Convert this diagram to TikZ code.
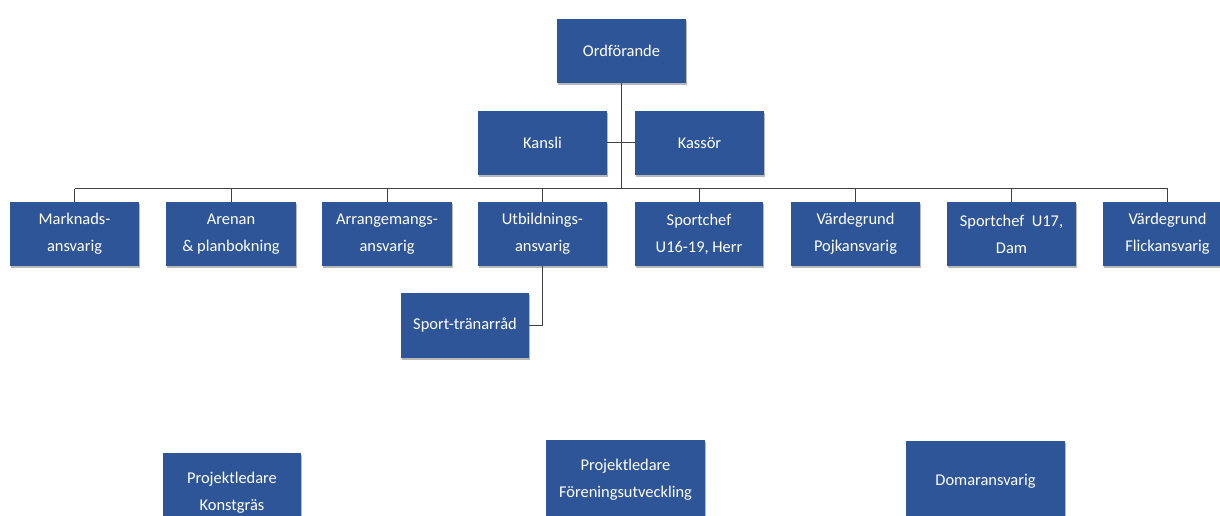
\documentclass[tikz,border=0pt]{standalone}
\usepackage{fontspec}
\setmainfont{Carlito}
\usetikzlibrary{shadows}
\definecolor{boxblue}{RGB}{46,85,151}
\definecolor{linegray}{RGB}{64,64,64}
\tikzset{
  orgbox/.style={draw=none, fill=boxblue, text=white, align=center,
    minimum width=129bp, minimum height=64bp, inner sep=2bp,
    font=\fontsize{16.5}{27}\selectfont,
    drop shadow={shadow xshift=1.2bp, shadow yshift=-2bp, fill=black, opacity=0.28}},
  link/.style={draw=linegray, line width=1bp}
}
\begin{document}
\begin{tikzpicture}[x=1bp, y=-1bp]
  \useasboundingbox (0,0) rectangle (1220,516);
  \clip (0,0) rectangle (1220,516);
  \fill[white] (0,0) rectangle (1220,516);

  % top of the organisation
  \node[orgbox] (ord)    at (621.5,51)  {Ordförande};
  \node[orgbox] (kansli) at (542.5,143) {Kansli};
  \node[orgbox] (kassor) at (699.5,143) {Kassör};

  % main row
  \node[orgbox] (r1) at (74.5,234)   {Marknads-\\ansvarig};
  \node[orgbox, minimum width=130bp] (r2) at (231,234) {Arenan\\\& planbokning};
  \node[orgbox, minimum width=130bp] (r3) at (387,234) {Arrangemangs-\\ansvarig};
  \node[orgbox] (r4) at (542.5,234)  {Utbildnings-\\ansvarig};
  \node[orgbox, minimum width=128bp] (r5) at (699,234) {Sportchef\\U16-19, Herr};
  \node[orgbox] (r6) at (855.5,234)  {Värdegrund\\Pojkansvarig};
  \node[orgbox] (r7) at (1011.5,234) {Sportchef\ \ U17,\\Dam};
  \node[orgbox] (r8) at (1167.5,234) {Värdegrund\\Flickansvarig};

  % below the education role
  \node[orgbox, minimum width=128bp, minimum height=65bp] (trainer) at (465,325.5) {Sport-tränarråd};

  % separate project roles
  \node[orgbox, minimum width=138bp, minimum height=80bp] (konst) at (232,493)   {Projektledare\\Konstgräs};
  \node[orgbox, minimum width=159bp, minimum height=80bp] (foren) at (625.5,480) {Projektledare\\Föreningsutveckling};
  \node[orgbox, minimum width=159bp, minimum height=80bp] (domar) at (985.5,481) {Domaransvarig};

  % connectors
  \coordinate (bus) at (621.5,189);
  \draw[link] (ord.south) -- (ord.south |- bus);
  \draw[link] (kansli.east) -- (kassor.west);
  \draw[link] (r1.north |- bus) -- (r8.north |- bus);
  \foreach \n in {r1,r2,r3,r4,r5,r6,r7,r8}
    \draw[link] (\n.north) -- (\n.north |- bus);
  \draw[link] (r4.south) |- (trainer.east);
\end{tikzpicture}
\end{document}
